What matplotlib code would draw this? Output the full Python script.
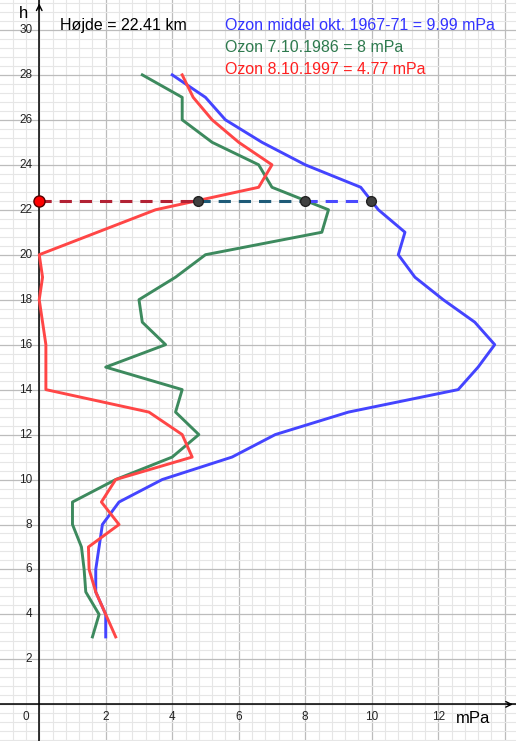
import numpy as np
import matplotlib.pyplot as plt
from matplotlib.ticker import MultipleLocator

plt.rcParams['font.family'] = ['Liberation Sans', 'DejaVu Sans']

# heights in km
h = [3, 4, 5, 6, 7, 8, 9, 10, 11, 12, 13, 14, 15, 16, 17, 18, 19, 20,
     21, 22, 23, 24, 25, 26, 27, 28]
# ozone partial pressure, mPa
ozon_middel = [2.0, 2.0, 1.7, 1.7, 1.8, 1.9, 2.4, 3.7, 5.8, 7.1, 9.3, 12.6,
               13.2, 13.7, 13.1, 12.15, 11.3, 10.8, 11.0, 10.2, 9.67, 8.0,
               6.7, 5.6, 5.0, 4.0]
ozon_1986 = [1.6, 1.8, 1.4, 1.35, 1.27, 1.0, 1.0, 2.3, 4.0, 4.8, 4.1, 4.3,
             2.0, 3.8, 3.1, 3.0, 4.1, 5.0, 8.5, 8.7, 7.0, 6.6, 5.2, 4.3,
             4.3, 3.1]
ozon_1997 = [2.3, 2.0, 1.7, 1.5, 1.48, 2.4, 1.87, 2.3, 4.6, 4.3, 3.3, 0.2,
             0.2, 0.2, 0.1, 0.0, 0.1, 0.0, 1.75, 3.5, 6.6, 7.0, 6.0, 5.2,
             4.63, 4.3]

hoejde = 22.41
v_middel = 9.99
v_1986 = 8
v_1997 = 4.77

xticks = [2, 4, 6, 8, 10, 12]
yticks = [2, 4, 6, 8, 10, 12, 14, 16, 18, 20, 22, 24, 26, 28, 30]

c_blue = '#4444ff'
c_green = '#3d8a5e'
c_red = '#ff4646'

fig = plt.figure(figsize=(5.16, 7.41), dpi=100)
ax = fig.add_axes([0, 0, 1, 1])
ax.set_xlim(-1.18, 14.34)
ax.set_ylim(-1.63, 31.33)
for s in ax.spines.values():
    s.set_visible(False)

# grid
ax.xaxis.set_major_locator(MultipleLocator(2))
ax.yaxis.set_major_locator(MultipleLocator(2))
ax.xaxis.set_minor_locator(MultipleLocator(0.4))
ax.yaxis.set_minor_locator(MultipleLocator(0.4))
ax.grid(which='minor', color='#e6e6e6', lw=0.8)
ax.grid(which='major', color='#bcbcbc', lw=0.9)
ax.tick_params(which='both', length=0, labelbottom=False, labelleft=False)
ax.set_axisbelow(True)

# axes with arrows
ax.axhline(0, color='black', lw=1.1, zorder=2)
ax.axvline(0, color='black', lw=1.1, zorder=2)
ax.annotate('', xy=(14.33, 0), xytext=(14.0, 0),
            arrowprops=dict(arrowstyle='->', color='black', lw=1.0))
ax.annotate('', xy=(0, 31.3), xytext=(0, 30.8),
            arrowprops=dict(arrowstyle='->', color='black', lw=1.0))

for t in xticks:
    ax.text(t, -0.55, str(t), ha='center', va='center', fontsize=8.5, color='#222222')
for t in yticks:
    ax.text(-0.21, t, str(t), ha='right', va='center', fontsize=8.5, color='#222222')
ax.text(-0.3, -0.55, '0', ha='right', va='center', fontsize=8.5, color='#222222')
ax.text(-0.46, 30.52, 'h', ha='center', va='baseline', fontsize=12)
ax.text(12.53, -0.82, 'mPa', ha='left', va='baseline', fontsize=12)

# ozone profiles
ax.plot(ozon_1986, h, color=c_green, lw=2.1, zorder=3)
ax.plot(ozon_middel, h, color=c_blue, lw=2.1, zorder=4)
ax.plot(ozon_1997, h, color=c_red, lw=2.1, zorder=5)

# dashed level line
ax.plot([0, v_1997], [hoejde, hoejde], color='#b22234', lw=2.2, ls=(0, (4, 2.6)), zorder=6)
ax.plot([v_1997, v_1986], [hoejde, hoejde], color='#1e5b78', lw=2.2, ls=(0, (4, 2.6)), zorder=6)
ax.plot([v_1986, v_middel], [hoejde, hoejde], color='#4a4aff', lw=2.2, ls=(0, (4, 2.6)), zorder=6)
ax.plot([v_1997, v_1986, v_middel], [hoejde] * 3, 'o', color='#404040',
        mec='#222222', ms=7, zorder=7)
ax.plot([0], [hoejde], 'o', color='#ff0000', mec='#550000', ms=8, zorder=7)

ax.text(0.62, 30.0, f'Højde = {hoejde} km', fontsize=11.5, color='black', va='baseline')
ax.text(5.6, 30.0, f'Ozon middel okt. 1967-71 = {v_middel} mPa', fontsize=11.5,
        color='#3333ff', va='baseline')
ax.text(5.6, 29.0, f'Ozon 7.10.1986 = {v_1986} mPa', fontsize=11.5,
        color='#2e7a4e', va='baseline')
ax.text(5.6, 28.03, f'Ozon 8.10.1997 = {v_1997} mPa', fontsize=11.5,
        color='#ff2020', va='baseline')

fig.savefig('out.png', dpi=100)
